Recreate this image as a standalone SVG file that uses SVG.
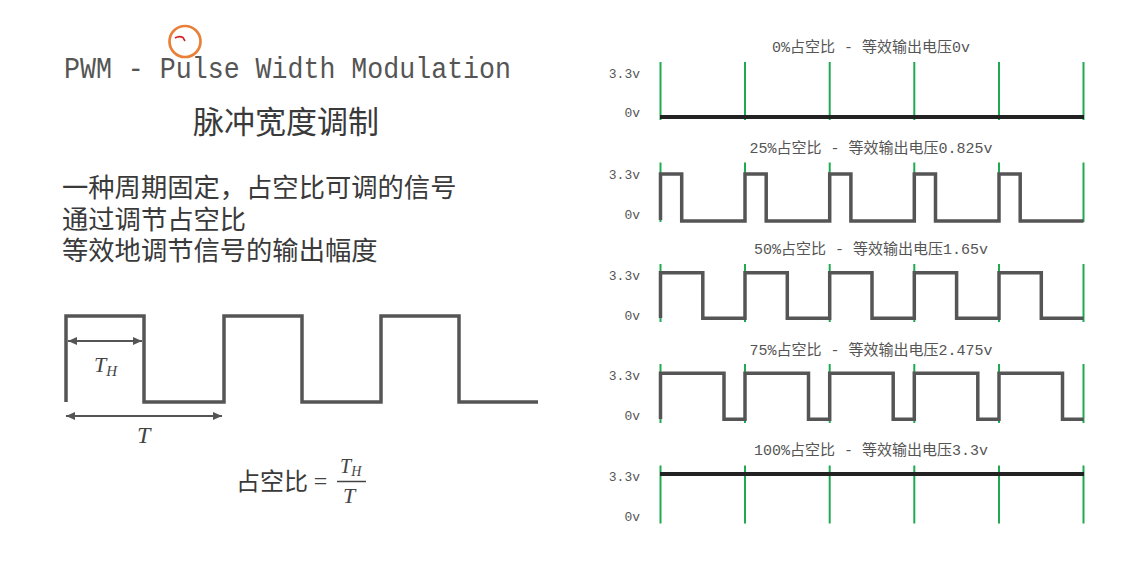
<svg xmlns="http://www.w3.org/2000/svg" width="1127" height="582" viewBox="0 0 1127 582">
<style>
.mono{font-family:"Liberation Mono","Noto Sans CJK SC",monospace;fill:#555}
.cjk{font-family:"Noto Sans CJK SC","Noto Sans",sans-serif;fill:#3a3a3a}
.math{font-family:"Liberation Serif",serif;font-style:italic;fill:#444}
.wave{fill:none;stroke:#555;stroke-width:3.5;stroke-linejoin:miter;stroke-linecap:butt}
.flat{fill:none;stroke:#222;stroke-width:4}
.grid{stroke:#1faa50;stroke-width:2}
.dim{stroke:#555;stroke-width:2;marker-start:url(#ah);marker-end:url(#ah)}
.ttl{font-size:15px;text-anchor:middle}
.lbl{font-size:13px;text-anchor:end}
</style>
<defs>
<marker id="ah" markerUnits="userSpaceOnUse" markerWidth="9" markerHeight="8" refX="9" refY="4" orient="auto-start-reverse">
<path d="M0,0 L9,4 L0,8 z" fill="#555"/>
</marker>
</defs>
<rect width="1127" height="582" fill="#fff"/>

<g id="heading">
<text class="mono" x="64" y="78" font-size="30" textLength="447" lengthAdjust="spacingAndGlyphs">PWM - Pulse Width Modulation</text>
<text class="cjk" x="193" y="133" font-size="31" fill="#444">脉冲宽度调制</text>
<circle cx="185" cy="41.5" r="15.5" fill="none" stroke="#e8803a" stroke-width="2.7"/>
<path d="M175,38 Q179,35.5 183,37.5 L185,41" fill="none" stroke="#d42020" stroke-width="1.6"/>
</g>

<g id="description">
<text class="cjk" x="62" y="197" font-size="26.3">一种周期固定，占空比可调的信号</text>
<text class="cjk" x="62" y="229" font-size="26.3">通过调节占空比</text>
<text class="cjk" x="62" y="260" font-size="26.3">等效地调节信号的输出幅度</text>
</g>

<g id="example-wave">
<path class="wave" stroke-width="4" d="M66,402 V316 H144 V402 H224 V316 H302 V402 H381 V316 H459 V402 H538"/>
<line class="dim" x1="68" y1="341" x2="142" y2="341"/>
<line class="dim" x1="66" y1="416" x2="222" y2="416"/>
<text class="math" x="94" y="372" font-size="22">T<tspan font-size="15" dy="4">H</tspan></text>
<text class="math" x="137" y="443" font-size="24">T</text>
</g>

<g id="formula">
<text class="cjk" x="236" y="490" font-size="24" fill="#444">占空比</text>
<text x="320.5" y="489" font-size="24" text-anchor="middle" font-family="Liberation Serif,serif" fill="#444">=</text>
<text class="math" x="340" y="473" font-size="20">T<tspan font-size="14" dy="3">H</tspan></text>
<line x1="337" y1="481.5" x2="366" y2="481.5" stroke="#444" stroke-width="1.5"/>
<text class="math" x="343" y="503" font-size="22">T</text>
</g>

<g id="panel-0">
<text class="mono ttl" x="871" y="52">0%占空比 - 等效输出电压0v</text>
<text class="mono lbl" x="640" y="78">3.3v</text>
<text class="mono lbl" x="640" y="117">0v</text>
<g class="grid">
<line x1="660.5" y1="62" x2="660.5" y2="120"/><line x1="745" y1="62" x2="745" y2="120"/><line x1="829.7" y1="62" x2="829.7" y2="120"/><line x1="914.3" y1="62" x2="914.3" y2="120"/><line x1="999" y1="62" x2="999" y2="120"/><line x1="1083.5" y1="62" x2="1083.5" y2="120"/>
</g>
<line class="flat" x1="660" y1="117" x2="1084" y2="117"/>
</g>

<g id="panel-25">
<text class="mono ttl" x="871" y="153">25%占空比 - 等效输出电压0.825v</text>
<text class="mono lbl" x="640" y="178.5">3.3v</text>
<text class="mono lbl" x="640" y="218.5">0v</text>
<g class="grid">
<line x1="660.5" y1="162.5" x2="660.5" y2="222"/><line x1="745" y1="162.5" x2="745" y2="222"/><line x1="829.7" y1="162.5" x2="829.7" y2="222"/><line x1="914.3" y1="162.5" x2="914.3" y2="222"/><line x1="999" y1="162.5" x2="999" y2="222"/><line x1="1083.5" y1="162.5" x2="1083.5" y2="222"/>
</g>
<path class="wave" d="M660.5,220 V174 H681.7 V221 H745 V174 H766.2 V221 H829.7 V174 H850.9 V221 H914.3 V174 H935.5 V221 H999 V174 H1020.2 V221 H1083.5"/>
</g>

<g id="panel-50">
<text class="mono ttl" x="871" y="254">50%占空比 - 等效输出电压1.65v</text>
<text class="mono lbl" x="640" y="279.5">3.3v</text>
<text class="mono lbl" x="640" y="319.5">0v</text>
<g class="grid">
<line x1="660.5" y1="264" x2="660.5" y2="322"/><line x1="745" y1="264" x2="745" y2="322"/><line x1="829.7" y1="264" x2="829.7" y2="322"/><line x1="914.3" y1="264" x2="914.3" y2="322"/><line x1="999" y1="264" x2="999" y2="322"/><line x1="1083.5" y1="264" x2="1083.5" y2="322"/>
</g>
<path class="wave" d="M660.5,318 V272.7 H702.8 V318.3 H745 V272.7 H787.3 V318.3 H829.7 V272.7 H872 V318.3 H914.3 V272.7 H956.6 V318.3 H999 V272.7 H1041.3 V318.3 H1083.5"/>
</g>

<g id="panel-75">
<text class="mono ttl" x="871" y="355">75%占空比 - 等效输出电压2.475v</text>
<text class="mono lbl" x="640" y="379.5">3.3v</text>
<text class="mono lbl" x="640" y="419.5">0v</text>
<g class="grid">
<line x1="660.5" y1="364" x2="660.5" y2="423"/><line x1="745" y1="364" x2="745" y2="423"/><line x1="829.7" y1="364" x2="829.7" y2="423"/><line x1="914.3" y1="364" x2="914.3" y2="423"/><line x1="999" y1="364" x2="999" y2="423"/><line x1="1083.5" y1="364" x2="1083.5" y2="423"/>
</g>
<path class="wave" d="M660.5,419 V373.3 H724 V419.3 H745 V373.3 H808.5 V419.3 H829.7 V373.3 H893.2 V419.3 H914.3 V373.3 H977.8 V419.3 H999 V373.3 H1062.5 V419.3 H1083.5"/>
</g>

<g id="panel-100">
<text class="mono ttl" x="871" y="455">100%占空比 - 等效输出电压3.3v</text>
<text class="mono lbl" x="640" y="481">3.3v</text>
<text class="mono lbl" x="640" y="521">0v</text>
<g class="grid">
<line x1="660.5" y1="465.5" x2="660.5" y2="523.5"/><line x1="745" y1="465.5" x2="745" y2="523.5"/><line x1="829.7" y1="465.5" x2="829.7" y2="523.5"/><line x1="914.3" y1="465.5" x2="914.3" y2="523.5"/><line x1="999" y1="465.5" x2="999" y2="523.5"/><line x1="1083.5" y1="465.5" x2="1083.5" y2="523.5"/>
</g>
<line class="flat" x1="660" y1="474" x2="1084" y2="474"/>
</g>
</svg>
